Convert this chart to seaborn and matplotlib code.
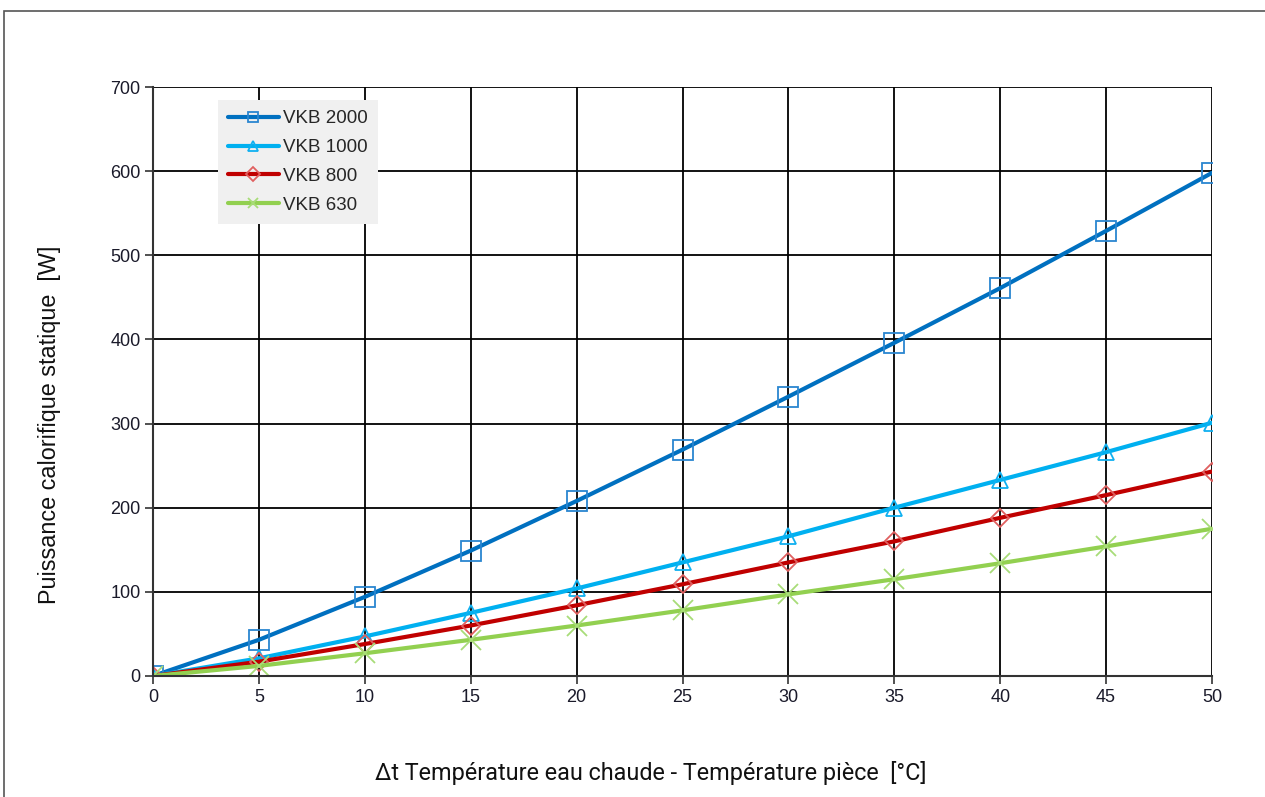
import matplotlib
matplotlib.use("Agg")
import matplotlib.pyplot as plt
import seaborn as sns
import pandas as pd
from matplotlib.patches import Rectangle

dt = [0, 5, 10, 15, 20, 25, 30, 35, 40, 45, 50]
vkb2000 = [0, 43, 94, 149, 208, 269, 332, 396, 461, 529, 598]
vkb1000 = [0, 21, 47, 75, 104, 135, 166, 200, 233, 266, 301]
vkb800 = [0, 17, 38, 60, 84, 109, 135, 160, 188, 215, 243]
vkb630 = [0, 12, 27, 43, 60, 78, 97, 115, 134, 154, 175]
series_names = ["VKB 2000", "VKB 1000", "VKB 800", "VKB 630"]
xticks = [0, 5, 10, 15, 20, 25, 30, 35, 40, 45, 50]
yticks = [0, 100, 200, 300, 400, 500, 600, 700]

sns.set_style("white")
plt.rcParams['font.family'] = ['Liberation Sans', 'DejaVu Sans']

fig = plt.figure(figsize=(12.65, 7.97), dpi=100)
ax = fig.add_axes([153/1265, 1-676/797, (1212-153)/1265, (676-87)/797])

styles = [
    dict(color="#0070c0", marker="s", ms=14, mec="#2a86d0"),
    dict(color="#00b0f0", marker="^", ms=12, mec="#10b0f0"),
    dict(color="#c00000", marker="D", ms=9, mec="#e06060"),
    dict(color="#92d050", marker="x", ms=14, mec="#a8dc78"),
]
values = [vkb2000, vkb1000, vkb800, vkb630]
for name, vals, st in zip(series_names, values, styles):
    df = pd.DataFrame({"dt": dt, "P": vals})
    sns.lineplot(data=df, x="dt", y="P", ax=ax, color=st["color"], lw=3,
                 marker=st["marker"], markersize=st["ms"], markerfacecolor="none",
                 markeredgecolor=st["mec"], markeredgewidth=1.3, label=name)

ax.set_xlim(0, 50)
ax.set_ylim(0, 700)
ax.set_xticks(xticks)
ax.set_yticks(yticks)
ax.grid(True, color="black", lw=1.3)
ax.set_axisbelow(True)
for s in ["top", "right"]:
    ax.spines[s].set_visible(False)
for s in ["left", "bottom"]:
    ax.spines[s].set_color("#333333")
    ax.spines[s].set_linewidth(1.5)
ax.tick_params(axis="both", which="both", direction="out", length=6, width=1.2,
               color="#333333", labelsize=13, labelcolor="#1a1a2a", left=True, bottom=True)
ax.tick_params(axis="x", pad=3)
ax.tick_params(axis="y", pad=3)

ax.set_xlabel("")
ax.set_ylabel("")
fig.text(50/1265, 1-425/797, "Puissance calorifique statique  [W]", rotation=90,
         ha="center", va="center", fontsize=16.8, color="#111111")

fig.text(651/1265, 1-773/797, "Δt Température eau chaude - Température pièce  [°C]",
         ha="center", va="center", fontsize=16.8, color="#111111",
         family=["Liberation Sans Narrow", "Roboto", "DejaVu Sans"])

leg = ax.legend(loc="upper left", bbox_to_anchor=(0.061, 0.978), frameon=True, fontsize=13.5,
                handlelength=2.7, borderpad=0.55, labelspacing=0.62, handletextpad=0.25,
                borderaxespad=0)
leg.get_frame().set_facecolor("#f0f0f0")
leg.get_frame().set_edgecolor("none")
leg.get_frame().set_alpha(1)
leg.get_frame().set_boxstyle("square", pad=0)
for h in leg.legend_handles:
    h.set_markersize(7)

fig.patches.append(Rectangle((4/1265, -0.1), 1.2, 1.1 - 11/797, transform=fig.transFigure,
                             fill=False, edgecolor="#555555", lw=1.2))

fig.savefig("out.png", dpi=100)
